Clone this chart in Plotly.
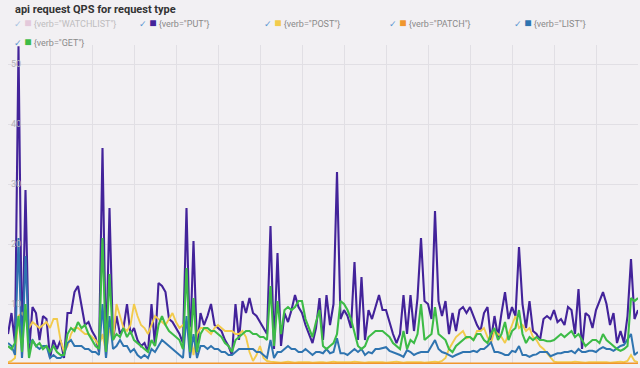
import plotly.graph_objects as go

# time index (one point every 5 s); vertical grid every 12 points
n_points = 181
t = list(range(n_points))

put = [5, 8.5, 3.5, 53, 1, 29, 2, 9.5, 8.5, 4,
       8, 7.5, 1, 4, 2.5, 4, 1, 8.5, 8.5, 12,
       13, 10, 6.5, 7, 5.5, 4.5, 2, 36, 1, 26,
       4, 8, 5, 6, 10, 5, 6, 4, 3, 3.5,
       2, 10, 3, 13.5, 13, 12, 7.5, 7, 6, 5,
       3.5, 26, 2.5, 20.5, 2.5, 8.5, 6.5, 8, 10, 6.5,
       6, 5.5, 4, 3, 1.5, 10, 4, 10.5, 8.5, 11,
       8.5, 8, 7, 6, 5, 23, 2.5, 18.5, 3, 8.5,
       7, 9, 11.5, 9.5, 8.5, 6.5, 5, 3.5, 6, 11,
       4, 11.5, 6.5, 10, 32, 7.5, 9, 8, 6, 17,
       4, 14.5, 4, 9, 7.5, 9.5, 11.5, 9, 9, 7,
       5, 3.5, 5, 11.5, 5, 11.5, 5.5, 11, 21, 10.5,
       10, 7.5, 25.5, 10.5, 8, 10.5, 5, 8.5, 5.5, 9,
       9.5, 8.5, 9.5, 8, 6.5, 5.5, 8.5, 9.5, 4, 8,
       4.5, 8.5, 12, 7.5, 9.5, 8, 19.5, 10, 6, 10.5,
       5.5, 5, 4, 7.5, 8, 7.5, 9, 7, 7.5, 6.5,
       9.5, 9, 5, 12.5, 2.5, 8.5, 8, 6, 9, 10.5,
       12, 10, 6.5, 8.5, 3.5, 5.5, 3.5, 8, 17.5, 7.5, 9]

post = [0.3, 0.5, 1, 8, 8.5, 7.5, 6, 7, 6.5, 6,
        6.5, 7, 6, 7.5, 7.5, 4, 2, 3, 5, 6,
        6, 5.5, 5, 5, 4.5, 4, 3, 5, 2, 6,
        4, 10, 8, 6, 5.5, 6.5, 10, 8, 6.5, 6,
        5, 6.5, 8, 7.5, 7, 6.5, 7.5, 8.5, 7, 6,
        6.5, 7, 6, 1.5, 5, 6, 6, 5.5, 5, 6,
        6.5, 6, 5.5, 5.5, 5.5, 5, 5, 5.5, 4.5, 2,
        0.5, 1.5, 3, 1, 0.5, 0.4, 0.3, 0.3, 0.2, 0.3,
        0.4, 0.3, 0.2, 0.3, 0.3, 0.4, 0.3, 0.2, 0.3, 0.3,
        0.3, 0.2, 0.3, 0.4, 0.3, 0.3, 0.2, 0.3, 0.3, 0.4,
        0.3, 0.3, 0.2, 0.3, 0.3, 0.4, 0.3, 0.3, 0.2, 0.3,
        0.3, 0.4, 0.3, 0.2, 0.3, 0.3, 0.3, 0.4, 0.3, 0.2,
        0.3, 0.3, 0.4, 0.3, 0.5, 1, 2.5, 3.5, 4.5, 5,
        5.5, 4.3, 4.5, 4, 5.5, 5.5, 6, 4.5, 3.5, 5.5,
        5, 4.5, 3.5, 5, 6.5, 8, 6, 6.5, 5.5, 6,
        4.5, 4, 3, 2.5, 1.8, 1, 0.4, 0.3, 0.3, 0.2,
        0.3, 0.3, 0.4, 0.3, 0.3, 0.2, 0.3, 0.3, 0.4, 0.3,
        0.3, 0.3, 0.2, 0.3, 0.3, 0.4, 0.3, 0.5, 1.5, 0.5, 0.3]

patch = [0.1, 0.1, 0.2, 0.1, 0.1, 0.1, 0.2, 0.1, 0.1, 0.1,
         0.1, 0.2, 0.1, 0.1, 0.1, 0.1, 0.1, 0.2, 0.1, 0.1,
         0.1, 0.1, 0.1, 0.2, 0.1, 0.1, 0.1, 0.1, 0.2, 0.1,
         0.1, 0.1, 0.1, 0.1, 0.2, 0.1, 0.1, 0.1, 0.1, 0.1,
         0.2, 0.1, 0.1, 0.1, 0.1, 0.1, 0.1, 0.2, 0.1, 0.1,
         0.1, 0.1, 0.2, 0.1, 0.1, 0.1, 0.1, 0.1, 0.1, 0.2,
         0.1, 0.1, 0.1, 0.1, 0.2, 0.1, 0.1, 0.1, 0.1, 0.1,
         0.1, 0.2, 0.1, 0.1, 0.1, 0.1, 0.1, 0.2, 0.1, 0.1,
         0.1, 0.1, 0.1, 0.2, 0.1, 0.1, 0.1, 0.1, 0.1, 0.2,
         0.1, 0.1, 0.1, 0.1, 0.1, 0.2, 0.1, 0.1, 0.1, 0.1,
         0.2, 0.1, 0.1, 0.1, 0.1, 0.1, 0.2, 0.1, 0.1, 0.1,
         0.1, 0.1, 0.2, 0.1, 0.1, 0.1, 0.1, 0.1, 0.2, 0.1,
         0.1, 0.1, 0.1, 0.1, 0.2, 0.1, 0.1, 0.1, 0.1, 0.1,
         0.2, 0.1, 0.1, 0.1, 0.1, 0.2, 0.1, 0.1, 0.1, 0.1,
         0.1, 0.1, 0.2, 0.1, 0.1, 0.1, 0.1, 0.2, 0.1, 0.1,
         0.1, 0.1, 0.1, 0.1, 0.2, 0.1, 0.1, 0.1, 0.1, 0.1,
         0.2, 0.1, 0.1, 0.1, 0.1, 0.1, 0.2, 0.1, 0.1, 0.1,
         0.1, 0.1, 0.1, 0.2, 0.1, 0.1, 0.1, 0.1, 0.2, 0.1, 0.1]

list_ = [3.5, 3, 1.5, 21, 1, 18, 3.5, 4, 3, 2.5,
         3, 3, 1, 1.5, 1, 1, 1.5, 3.5, 4, 3,
         3, 3, 2.5, 2.5, 2, 2, 1.5, 10, 1, 8,
         2.5, 3, 4, 3, 3, 2, 2.5, 1.5, 1, 1.5,
         1, 2.5, 2, 3, 4, 3.5, 3, 2.5, 2, 1.5,
         1, 8, 1, 5, 1, 3, 3, 2.5, 3, 2.5,
         2.5, 2, 2, 1.5, 1.5, 2, 2.5, 2.5, 2.5, 2.5,
         2.5, 2, 2, 1.5, 1, 4, 1, 2, 2, 2.5,
         3, 2.5, 2.5, 2, 2, 2.5, 2, 1.5, 2, 2,
         1.8, 2.5, 1.8, 2, 4.3, 1.8, 1.8, 1.5, 2, 2.5,
         2, 2.5, 1.5, 2, 1.8, 2.5, 2.5, 2.6, 2.8, 2.2,
         2, 1.8, 1.5, 1.2, 2.3, 2, 1.5, 1.8, 2, 2,
         2, 3, 4, 2.5, 2, 1.8, 1.5, 1.2, 1.5, 1.8,
         2, 2, 2, 2.2, 2, 2.5, 2.5, 3, 3.6, 2,
         2, 1.8, 1.5, 1.5, 2.2, 2, 3, 1.5, 1.5, 1.2,
         1.5, 1.6, 2, 2, 2, 1.3, 1.5, 1.8, 1.8, 2,
         2, 2.2, 1.8, 2.5, 2, 2, 2.2, 2.2, 2, 2.5,
         2.8, 2.5, 2.5, 2.2, 2.6, 3, 3.2, 4, 5, 1.5, 2]

get = [3, 2.5, 3.5, 8, 2, 10, 1, 4, 3, 3.5,
       2.5, 3, 2, 3, 2, 1.5, 1.5, 5, 6, 5.5,
       7, 6, 6.5, 5, 4, 3, 2.5, 21, 2, 15,
       4, 5, 4.5, 6, 4.5, 5.5, 4, 3.5, 3, 2.5,
       2, 4, 3, 6.5, 8, 6.5, 5.5, 5, 4.5, 4,
       2.5, 16, 2, 11, 2, 5, 6, 6, 5.5, 5.5,
       5, 4.5, 3.5, 3, 2, 4, 4.5, 5, 5.5, 5.5,
       5, 5, 4.5, 4.5, 4, 13, 3, 10.5, 5, 9,
       9.5, 9, 9.5, 10.5, 10.5, 7.5, 6, 4.5, 7, 9,
       3, 2.5, 3, 3.5, 5, 10.5, 10, 9, 7.5, 5,
       3, 2.5, 3, 4.5, 5, 5.5, 5.5, 5.5, 5, 4.5,
       3.5, 3, 2.5, 5.5, 2.5, 4, 3.5, 5, 10, 4,
       4.5, 5, 9.5, 5, 4.5, 4, 2.5, 2, 3, 3.5,
       4, 4.5, 4.5, 4, 5, 5, 4, 3.5, 5, 6,
       4, 5, 7, 4, 5.5, 6, 9, 5, 3.5, 4.5,
       4, 4.5, 4, 4, 3.8, 3.8, 4, 4.5, 5, 4.5,
       5, 5.5, 4.5, 5, 4, 3, 3.5, 4, 4, 3.5,
       5, 4, 3.5, 3, 2.5, 2.2, 2.5, 3, 11, 10.5, 11]

# WATCHLIST series is switched off in the panel (legend entry only)
watchlist = []

series_names = ['{verb="WATCHLIST"}', '{verb="PUT"}', '{verb="POST"}',
                '{verb="PATCH"}', '{verb="LIST"}', '{verb="GET"}']
series_values = [watchlist, put, post, patch, list_, get]
series_colors = ['#d8a3c4', '#43239a', '#f2cb4c', '#f0962e', '#2f74b0', '#3dbb47']
series_widths = [2.1, 2.1, 1.9, 1.7, 2.0, 2.1]

fig = go.Figure()

for name, vals, col, w in zip(series_names, series_values, series_colors, series_widths):
    hidden = (len(vals) == 0)
    if not hidden:
        fig.add_trace(go.Scatter(
            x=t[:len(vals)], y=vals, mode='lines',
            line=dict(color=col, width=w),
            legendgroup=name, showlegend=False, name=name))
    label = ('<span style="color:#5c96d2">\u2713</span> '
             '<span style="color:%s;font-size:12px">\u25A0</span> %s' % (col, name))
    fig.add_trace(go.Scatter(
        x=[None], y=[None], mode='markers',
        marker=dict(size=0, opacity=0, color='rgba(0,0,0,0)',
                    line=dict(width=0, color='rgba(0,0,0,0)')),
        legendgroup=name, showlegend=True, name=label,
        visible='legendonly' if hidden else True))

bg = '#f2f0f3'
grid = '#e1dfe4'

fig.update_layout(
    width=640, height=368,
    margin=dict(l=8, r=2, t=45, b=4, autoexpand=False),
    paper_bgcolor=bg, plot_bgcolor=bg,
    font=dict(family='Roboto, Open Sans, sans-serif', size=9, color='#888888'),
    title=dict(text='<b>api request QPS for request type</b>',
               x=15 / 640, xanchor='left', xref='container',
               y=1 - 5 / 368, yanchor='top', yref='container',
               pad=dict(t=0, b=0, l=0, r=0),
               font=dict(family='Roboto, Open Sans, sans-serif', size=11, color='#333333')),
    legend=dict(orientation='h', x=-0.054, xanchor='left', y=1.112, yanchor='top',
                bgcolor='rgba(0,0,0,0)', entrywidth=80, entrywidthmode='pixels',
                itemwidth=30, itemclick=False, itemdoubleclick=False,
                font=dict(family='Roboto, Open Sans, sans-serif', size=9, color='#8a8a8a'),
                tracegroupgap=0),
    showlegend=True,
)

fig.update_xaxes(range=[0, 180], dtick=12, tick0=0, showgrid=True, gridcolor=grid,
                 gridwidth=1, showticklabels=False, zeroline=False, showline=False,
                 ticks='')
fig.update_yaxes(range=[0, 53.2], tickvals=[10, 20, 30, 40, 50], showgrid=True,
                 gridcolor=grid, gridwidth=1, ticklabelposition='inside',
                 tickfont=dict(size=9, color='#b5b3b8'), zeroline=False,
                 showline=False, ticks='')

fig.write_html(
    "out.html",
    config={'responsive': False, 'displayModeBar': False},
    post_script="document.body.style.margin='0px';document.body.style.background='%s';" % bg,
)
